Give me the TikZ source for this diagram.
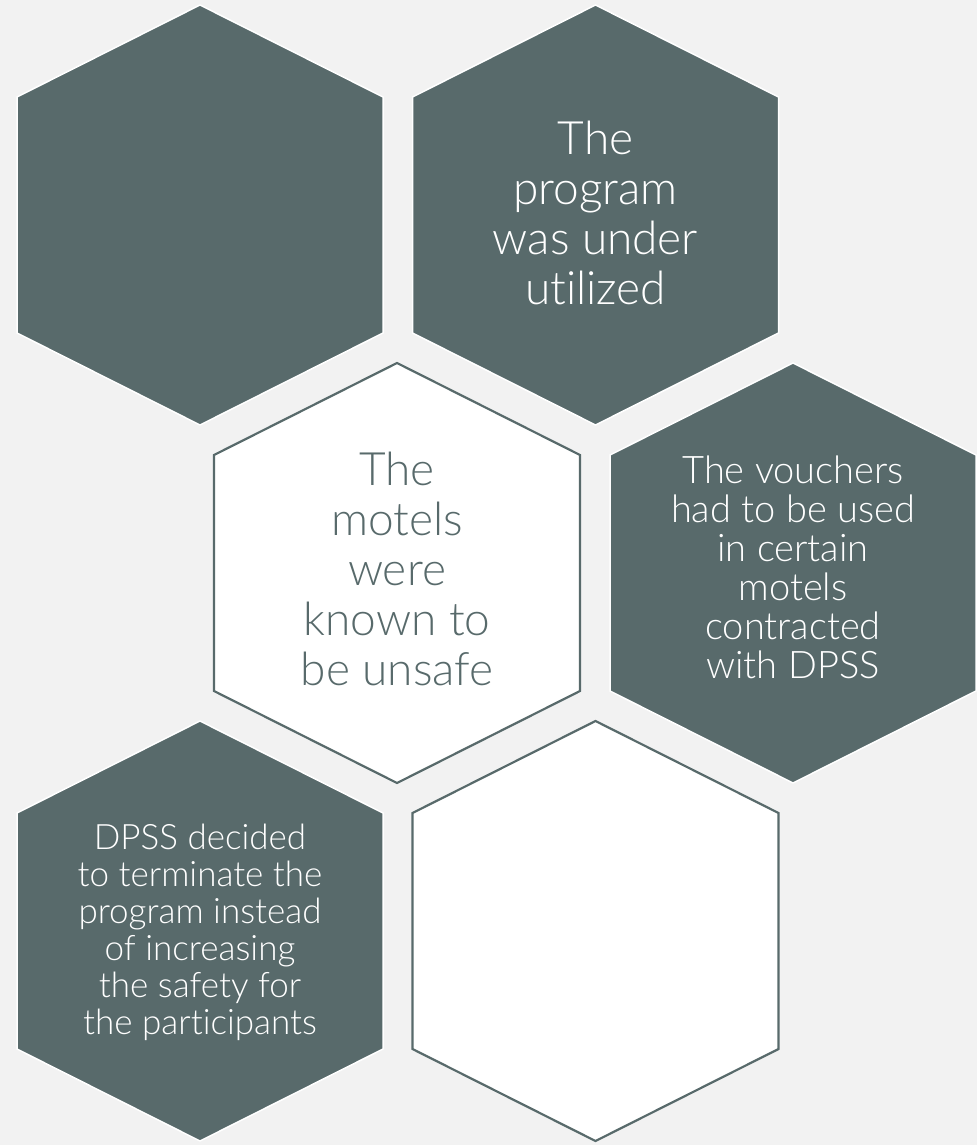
\documentclass[tikz,border=0pt]{standalone}
\usepackage{fontspec}
\setmainfont{Lato}[UprightFont=* Light,RawFeature=-liga]
\definecolor{pagebg}{HTML}{F2F2F2}
\definecolor{slate}{HTML}{586A6B}
% pointy-top hexagon around a centre (cx,cy), y axis pointing down
\newcommand\hexpath[2]{(#1,#2-210) -- (#1+183,#2-118) -- (#1+183,#2+118) -- (#1,#2+210) -- (#1-183,#2+118) -- (#1-183,#2-118) -- cycle}
\begin{document}
\begin{tikzpicture}[x=1pt,y=-1pt,
  darkhex/.style={fill=slate,draw=white,line width=1.5pt,line join=miter},
  lighthex/.style={fill=white,draw=slate,line width=2.2pt,line join=miter},
  bigtext/.style={align=center,inner sep=0pt,font=\fontsize{46}{50}\selectfont},
  midtext/.style={align=center,inner sep=0pt,font=\fontsize{38}{39}\selectfont},
  smalltext/.style={align=center,inner sep=0pt,font=\fontsize{35}{37}\selectfont}]
  \fill[pagebg] (0,0) rectangle (977,1145);
  \useasboundingbox (0,0) rectangle (977,1145);

  % honeycomb cells
  \path[darkhex]  \hexpath{200}{215};
  \path[darkhex]  \hexpath{595.5}{215};
  \path[lighthex] \hexpath{397}{573};
  \path[darkhex]  \hexpath{793}{573};
  \path[darkhex]  \hexpath{200}{931};
  \path[lighthex] \hexpath{595.5}{931};

  % cell labels
  \node[bigtext,text=white] (underused) at (595.5,213)
    {The\\program\\was under\\utilized};
  \node[bigtext,text=slate] (unsafe) at (397,569)
    {The\\motels\\were\\known to\\be unsafe};
  \node[midtext,text=white] (vouchers) at (793,567)
    {The vouchers\\had to be used\\in certain\\motels\\contracted\\with DPSS};
  \node[smalltext,text=white] (terminate) at (200,932)
    {DPSS decided\\to terminate the\\program instead\\of increasing\\the safety for\\the participants};
\end{tikzpicture}
\end{document}
